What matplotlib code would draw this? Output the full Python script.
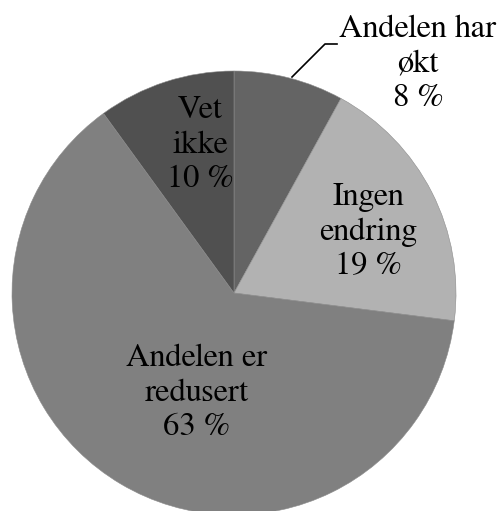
import matplotlib.pyplot as plt

labels = ['Andelen har\nøkt', 'Ingen\nendring', 'Andelen er\nredusert', 'Vet\nikke']
values = [8, 19, 63, 10]
colors = ['#646464', '#b2b2b2', '#808080', '#505050']
# label centres in pixel coords (x, y from top)
label_pos = [(418, 64), (368, 232), (197, 393), (200, 145)]

W, H = 499, 511
cx, cy, r = 234, 293, 222

plt.rcParams['font.family'] = ['FreeSerif', 'DejaVu Serif']

fig = plt.figure(figsize=(W / 100, H / 100), dpi=100)
ax = fig.add_axes([0, 0, 1, 1])
ax.pie(values, colors=colors, startangle=90, counterclock=False,
       center=(cx, H - cy), radius=r,
       wedgeprops=dict(edgecolor='#8c8c8c', linewidth=0.4))
ax.set_xlim(0, W)
ax.set_ylim(0, H)
ax.set_aspect('equal')
ax.axis('off')

for lab, v, (x, y) in zip(labels, values, label_pos):
    ax.text(x, H - y, f'{lab}\n{v} %', ha='center', va='center',
            fontsize=23.5, linespacing=1.22, color='black')

# leader line for the small slice
ax.plot([292, 325, 337], [H - 77, H - 44, H - 44], color='black', lw=1.2)

fig.savefig('out.png', dpi=100)
